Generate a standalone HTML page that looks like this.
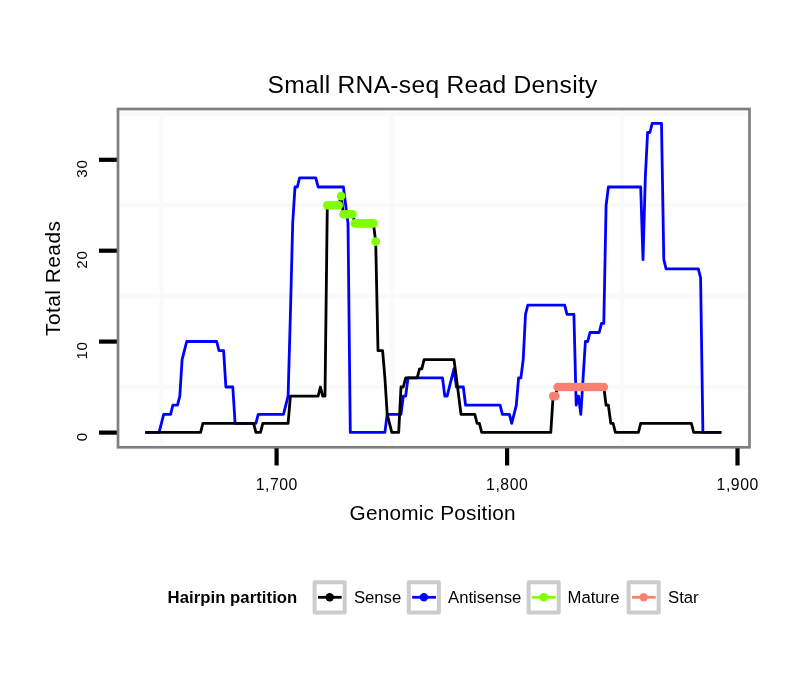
<!DOCTYPE html>
<html><head><meta charset="utf-8"><title>Small RNA-seq Read Density</title>
<style>html,body{margin:0;padding:0;background:#fff}body{width:810px;height:690px;overflow:hidden}</style></head>
<body>
<svg width="810" height="690" viewBox="0 0 810 690" style="display:block;font-family:'Liberation Sans',sans-serif">
<rect width="810" height="690" fill="#fff"/>
<g stroke="#fafafa" stroke-width="4"><line x1="118" x2="749.5" y1="387.0" y2="387.0"/><line x1="118" x2="749.5" y1="296.1" y2="296.1"/><line x1="118" x2="749.5" y1="205.2" y2="205.2"/><line x1="118" x2="749.5" y1="114.3" y2="114.3"/><line y1="109" y2="447.3" x1="161.4" x2="161.4"/><line y1="109" y2="447.3" x1="391.8" x2="391.8"/><line y1="109" y2="447.3" x1="622.3" x2="622.3"/></g>
<g fill="none" stroke-width="2.8" stroke-linejoin="round" stroke-linecap="butt">
<path d="M145.2,432.4 L159.1,432.4 L161.4,423.4 L163.7,414.3 L170.6,414.3 L172.9,405.2 L177.5,405.2 L179.8,396.1 L182.1,359.7 L184.4,350.6 L186.7,341.5 L216.7,341.5 L219.0,350.6 L223.6,350.6 L225.9,387.0 L232.8,387.0 L235.1,423.4 L255.9,423.4 L258.2,414.3 L283.5,414.3 L285.8,405.2 L288.1,396.1 L290.4,314.3 L292.7,223.4 L295.0,187.0 L297.3,187.0 L299.6,177.9 L315.8,177.9 L318.1,187.0 L343.4,187.0 L345.7,205.2 L348.0,223.4 L350.3,432.4 L384.9,432.4 L387.2,414.3 L401.0,414.3 L403.3,396.1 L405.7,396.1 L408.0,377.9 L442.5,377.9 L444.8,396.1 L447.1,396.1 L449.4,387.0 L451.7,377.9 L454.0,368.8 L456.4,387.0 L463.3,387.0 L465.6,405.2 L500.1,405.2 L502.4,414.3 L509.4,414.3 L511.7,423.4 L514.0,414.3 L516.3,405.2 L518.6,377.9 L520.9,377.9 L523.2,359.7 L525.5,314.3 L527.8,305.2 L564.7,305.2 L567.0,314.3 L573.9,314.3 L576.2,405.2 L578.5,396.1 L580.8,414.3 L583.1,377.9 L585.4,341.5 L587.7,341.5 L590.0,332.5 L599.2,332.5 L601.5,323.4 L603.8,323.4 L606.1,205.2 L608.4,187.0 L640.7,187.0 L643.0,259.7 L645.3,177.9 L647.6,132.5 L649.9,132.5 L652.2,123.4 L661.5,123.4 L663.8,259.7 L666.1,268.8 L698.3,268.8 L700.6,277.9 L702.9,432.4 L721.4,432.4" stroke="#0000FF"/>
<path d="M145.2,432.4 L200.6,432.4 L202.9,423.4 L253.6,423.4 L255.9,432.4 L260.5,432.4 L262.8,423.4 L288.1,423.4 L290.4,396.1 L318.1,396.1 L320.4,387.0 L322.7,396.1 L325.0,396.1 L327.3,205.2 L338.8,205.2 L341.1,196.1 L343.4,214.3 L352.6,214.3 L355.0,223.4 L373.4,223.4 L375.7,241.6 L378.0,350.6 L382.6,350.6 L384.9,377.9 L387.2,414.3 L389.5,423.4 L391.8,432.4 L398.7,432.4 L401.0,387.0 L403.3,387.0 L405.7,377.9 L417.2,377.9 L419.5,368.8 L421.8,368.8 L424.1,359.7 L454.0,359.7 L456.4,377.9 L458.7,396.1 L461.0,414.3 L474.8,414.3 L477.1,423.4 L479.4,423.4 L481.7,432.4 L550.8,432.4 L553.1,396.1 L555.4,396.1 L557.7,387.0 L603.8,387.0 L606.1,405.2 L608.4,405.2 L610.8,423.4 L613.1,423.4 L615.4,432.4 L638.4,432.4 L640.7,423.4 L691.4,423.4 L693.7,432.4 L721.4,432.4" stroke="#000"/>
</g>
<circle cx="327.3" cy="205.2" r="4.3" fill="#7FFF00"/><circle cx="329.6" cy="205.2" r="4.3" fill="#7FFF00"/><circle cx="331.9" cy="205.2" r="4.3" fill="#7FFF00"/><circle cx="334.2" cy="205.2" r="4.3" fill="#7FFF00"/><circle cx="336.5" cy="205.2" r="4.3" fill="#7FFF00"/><circle cx="338.8" cy="205.2" r="4.3" fill="#7FFF00"/><circle cx="341.1" cy="196.1" r="4.3" fill="#7FFF00"/><circle cx="343.4" cy="214.3" r="4.3" fill="#7FFF00"/><circle cx="345.7" cy="214.3" r="4.3" fill="#7FFF00"/><circle cx="348.0" cy="214.3" r="4.3" fill="#7FFF00"/><circle cx="350.3" cy="214.3" r="4.3" fill="#7FFF00"/><circle cx="352.6" cy="214.3" r="4.3" fill="#7FFF00"/><circle cx="355.0" cy="223.4" r="4.3" fill="#7FFF00"/><circle cx="357.3" cy="223.4" r="4.3" fill="#7FFF00"/><circle cx="359.6" cy="223.4" r="4.3" fill="#7FFF00"/><circle cx="361.9" cy="223.4" r="4.3" fill="#7FFF00"/><circle cx="364.2" cy="223.4" r="4.3" fill="#7FFF00"/><circle cx="366.5" cy="223.4" r="4.3" fill="#7FFF00"/><circle cx="368.8" cy="223.4" r="4.3" fill="#7FFF00"/><circle cx="371.1" cy="223.4" r="4.3" fill="#7FFF00"/><circle cx="373.4" cy="223.4" r="4.3" fill="#7FFF00"/><circle cx="375.7" cy="241.6" r="4.3" fill="#7FFF00"/>
<circle cx="553.1" cy="396.1" r="4.3" fill="#FA8072"/><circle cx="555.4" cy="396.1" r="4.3" fill="#FA8072"/><circle cx="557.7" cy="387.0" r="4.3" fill="#FA8072"/><circle cx="560.1" cy="387.0" r="4.3" fill="#FA8072"/><circle cx="562.4" cy="387.0" r="4.3" fill="#FA8072"/><circle cx="564.7" cy="387.0" r="4.3" fill="#FA8072"/><circle cx="567.0" cy="387.0" r="4.3" fill="#FA8072"/><circle cx="569.3" cy="387.0" r="4.3" fill="#FA8072"/><circle cx="571.6" cy="387.0" r="4.3" fill="#FA8072"/><circle cx="573.9" cy="387.0" r="4.3" fill="#FA8072"/><circle cx="576.2" cy="387.0" r="4.3" fill="#FA8072"/><circle cx="578.5" cy="387.0" r="4.3" fill="#FA8072"/><circle cx="580.8" cy="387.0" r="4.3" fill="#FA8072"/><circle cx="583.1" cy="387.0" r="4.3" fill="#FA8072"/><circle cx="585.4" cy="387.0" r="4.3" fill="#FA8072"/><circle cx="587.7" cy="387.0" r="4.3" fill="#FA8072"/><circle cx="590.0" cy="387.0" r="4.3" fill="#FA8072"/><circle cx="592.3" cy="387.0" r="4.3" fill="#FA8072"/><circle cx="594.6" cy="387.0" r="4.3" fill="#FA8072"/><circle cx="596.9" cy="387.0" r="4.3" fill="#FA8072"/><circle cx="599.2" cy="387.0" r="4.3" fill="#FA8072"/><circle cx="601.5" cy="387.0" r="4.3" fill="#FA8072"/><circle cx="603.8" cy="387.0" r="4.3" fill="#FA8072"/>
<rect x="118" y="109" width="631.5" height="338.3" fill="none" stroke="#7f7f7f" stroke-width="2.7"/>
<g stroke="#000" stroke-width="4.2"><line x1="99" x2="116.8" y1="432.6" y2="432.6"/><line x1="99" x2="116.8" y1="341.6" y2="341.6"/><line x1="99" x2="116.8" y1="250.7" y2="250.7"/><line x1="99" x2="116.8" y1="159.8" y2="159.8"/><line y1="448.3" y2="465.5" x1="276.6" x2="276.6"/><line y1="448.3" y2="465.5" x1="507.1" x2="507.1"/><line y1="448.3" y2="465.5" x1="737.5" x2="737.5"/></g>
<g style="opacity:0.999">
<text transform="translate(86.9,432.1) rotate(-90)" text-anchor="end" font-size="15.1" letter-spacing="0.8" fill="#000">0</text>
<text transform="translate(86.9,341.2) rotate(-90)" text-anchor="end" font-size="15.1" letter-spacing="0.8" fill="#000">10</text>
<text transform="translate(86.9,250.3) rotate(-90)" text-anchor="end" font-size="15.1" letter-spacing="0.8" fill="#000">20</text>
<text transform="translate(86.9,159.4) rotate(-90)" text-anchor="end" font-size="15.1" letter-spacing="0.8" fill="#000">30</text>
<text x="276.8" y="489.9" text-anchor="middle" font-size="15.8" letter-spacing="0.55" fill="#000">1,700</text>
<text x="507.2" y="489.9" text-anchor="middle" font-size="15.8" letter-spacing="0.55" fill="#000">1,800</text>
<text x="737.7" y="489.9" text-anchor="middle" font-size="15.8" letter-spacing="0.55" fill="#000">1,900</text>
<text x="432.7" y="519.6" text-anchor="middle" font-size="20.8" letter-spacing="0.2" fill="#000">Genomic Position</text>
<text transform="translate(60,278.3) rotate(-90)" text-anchor="middle" font-size="20.8" letter-spacing="0.5" fill="#000">Total Reads</text>
<text x="432.55" y="92.8" text-anchor="middle" font-size="24.6" letter-spacing="0.29" fill="#000">Small RNA-seq Read Density</text>
<text x="167.6" y="602.8" letter-spacing="0.05" font-size="16.7" font-weight="bold" fill="#000">Hairpin partition</text>
<rect x="314.6" y="582.2" width="30.1" height="30.2" fill="#fff" stroke="#cccccc" stroke-width="4" stroke-linejoin="round"/>
<line x1="318.0" x2="341.7" y1="597.3" y2="597.3" stroke="#000" stroke-width="2.8"/>
<circle cx="329.7" cy="597.3" r="4.2" fill="#000"/>
<text x="353.9" y="602.6" font-size="16.7" fill="#000">Sense</text>
<rect x="408.8" y="582.2" width="30.1" height="30.2" fill="#fff" stroke="#cccccc" stroke-width="4" stroke-linejoin="round"/>
<line x1="412.2" x2="435.9" y1="597.3" y2="597.3" stroke="#0000FF" stroke-width="2.8"/>
<circle cx="423.9" cy="597.3" r="4.2" fill="#0000FF"/>
<text x="448.0" y="602.6" font-size="16.7" fill="#000">Antisense</text>
<rect x="528.6" y="582.2" width="30.1" height="30.2" fill="#fff" stroke="#cccccc" stroke-width="4" stroke-linejoin="round"/>
<line x1="532.0" x2="555.7" y1="597.3" y2="597.3" stroke="#7FFF00" stroke-width="2.8"/>
<circle cx="543.7" cy="597.3" r="4.2" fill="#7FFF00"/>
<text x="567.5" y="602.6" font-size="16.7" fill="#000">Mature</text>
<rect x="628.6" y="582.2" width="30.1" height="30.2" fill="#fff" stroke="#cccccc" stroke-width="4" stroke-linejoin="round"/>
<line x1="632.0" x2="655.7" y1="597.3" y2="597.3" stroke="#FA8072" stroke-width="2.8"/>
<circle cx="643.7" cy="597.3" r="4.2" fill="#FA8072"/>
<text x="668.0" y="602.6" font-size="16.7" fill="#000">Star</text>
</g>
</svg>
</body></html>
